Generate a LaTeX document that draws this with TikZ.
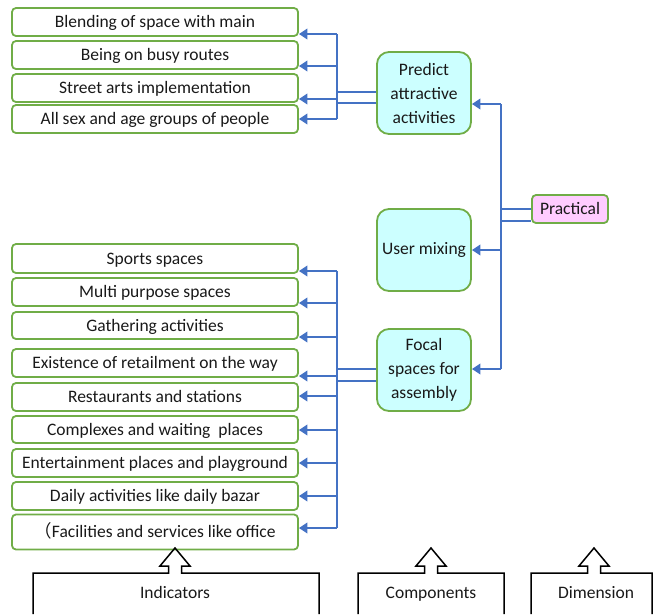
\documentclass[tikz,border=0pt]{standalone}
\usepackage{fontspec}
\setmainfont{Carlito}
\newfontfamily\cjk{Noto Sans CJK SC}
\usetikzlibrary{arrows.meta}
\definecolor{boxgreen}{HTML}{70AD47}
\definecolor{linkblue}{HTML}{4472C4}
\definecolor{paleCyan}{HTML}{CCFFFF}
\definecolor{palePink}{HTML}{FFCCFF}
% open-bottomed frame whose top edge rises into a hollow up-arrow
\newcommand\frameup[3]{%
  \draw[base] (#1,614) -- (#1,573) -- ({#3-6.5},573) -- ++(0,-7) -- ++(-8.5,0)
    -- ++(15,-18) -- ++(15,18) -- ++(-8.5,0) -- ++(0,7) -- (#2,573) -- (#2,614);}
\begin{document}
\begin{tikzpicture}[x=1pt,y=-1pt,
  item/.style={draw=boxgreen,line width=1.8pt,rounded corners=4pt,minimum width=286pt,
    inner sep=0pt,text height=12.5pt,text depth=1pt,
    font=\fontsize{17.5}{20}\selectfont,text=black!90},
  comp/.style={draw=boxgreen,fill=paleCyan,line width=1.8pt,rounded corners=12pt,
    minimum width=94pt,minimum height=82pt,align=center,inner sep=0pt,
    font=\fontsize{17.5}{24}\selectfont,text=black!90},
  link/.style={draw=linkblue,line width=2pt},
  arr/.style={link,-{Triangle[length=8.5pt,width=10.5pt]}},
  base/.style={draw=black,line width=1.5pt},
  caption/.style={font=\fontsize{17.5}{20}\selectfont,text=black!90,
    text height=12.5pt,text depth=1pt}]
\useasboundingbox (0,0) rectangle (653,614);

% indicators: upper group
\node[item,minimum height=28pt] (b1) at (155,22)  {Blending of space with main};
\node[item,minimum height=28pt] (b2) at (155,55)  {Being on busy routes};
\node[item,minimum height=28pt] (b3) at (155,88)  {Street arts implementation};
\node[item,minimum height=28pt] (b4) at (155,119) {All sex and age groups of people};

% indicators: lower group
\node[item,minimum height=29pt] (c1) at (155,258.5) {Sports spaces};
\node[item,minimum height=28pt] (c2) at (155,292)   {Multi purpose spaces};
\node[item,minimum height=27pt] (c3) at (155,325.5) {Gathering activities};
\node[item,minimum height=28pt] (c4) at (155,363)   {Existence of retailment on the way};
\node[item,minimum height=28pt] (c5) at (155,397)   {Restaurants and stations};
\node[item,minimum height=27pt] (c6) at (155,429.5) {Complexes and waiting\ \ places};
\node[item,minimum height=28pt] (c7) at (155,463)   {Entertainment places and playground};
\node[item,minimum height=28pt] (c8) at (155,496)   {Daily activities like daily bazar};
\node[item,minimum height=35pt] (c9) at (155,532)   {{\cjk （}Facilities and services like office};

% components
\node[comp] (pa) at (424,93)  {Predict\\attractive\\activities};
\node[comp] (um) at (424,250) {User mixing};
\node[comp] (fs) at (424,370) {Focal\\spaces for\\assembly};

% dimension
\node[draw=boxgreen,fill=palePink,line width=1.8pt,rounded corners=4pt,
  minimum width=76pt,minimum height=28pt,inner sep=0pt,text=black!90,
  text height=12.5pt,text depth=1pt,
  font=\fontsize{17.5}{20}\selectfont] (pr) at (570,209) {Practical};

% dimension to components
\coordinate (r0) at (501,104);
\coordinate (r1) at (501,209);
\coordinate (r2) at (501,221);
\coordinate (r3) at (501,250);
\coordinate (r4) at (501,369);
\draw[link] (r0) -- (r4);
\draw[link] (pr.west |- r1) -- (r1);
\draw[link] (pr.west |- r2) -- (r2);
\draw[arr] (r0) -- (r0 -| pa.east);
\draw[arr] (r3) -- (r3 -| um.east);
\draw[arr] (r4) -- (r4 -| fs.east);

% upper component to its indicators
\coordinate (u1) at (337,34);
\coordinate (u2) at (337,66);
\coordinate (u3) at (337,99);
\coordinate (u4) at (337,119);
\draw[link] (u1) -- (u4);
\draw[link] (pa.west |- 0,92) -- (337,92);
\draw[link] (pa.west |- 0,103) -- (337,103);
\draw[arr] (u1) -- (u1 -| b1.east);
\draw[arr] (u2) -- (u2 -| b2.east);
\draw[arr] (u3) -- (u3 -| b3.east);
\draw[arr] (u4) -- (u4 -| b4.east);

% lower component to its indicators
\coordinate (l1) at (337,271);
\coordinate (l2) at (337,303);
\coordinate (l3) at (337,337);
\coordinate (l4) at (337,376);
\coordinate (l5) at (337,396);
\coordinate (l6) at (337,430);
\coordinate (l7) at (337,463);
\coordinate (l8) at (337,496);
\coordinate (l9) at (337,528);
\draw[link] (l1) -- (l9);
\draw[link] (fs.west |- 0,369) -- (337,369);
\draw[link] (fs.west |- 0,381) -- (337,381);
\draw[arr] (l1) -- (l1 -| c1.east);
\draw[arr] (l2) -- (l2 -| c2.east);
\draw[arr] (l3) -- (l3 -| c3.east);
\draw[arr] (l4) -- (l4 -| c4.east);
\draw[arr] (l5) -- (l5 -| c5.east);
\draw[arr] (l6) -- (l6 -| c6.east);
\draw[arr] (l7) -- (l7 -| c7.east);
\draw[arr] (l8) -- (l8 -| c8.east);
\draw[arr] (l9) -- (l9 -| c9.east);

% level captions
\frameup{33}{319}{175}
\frameup{358}{504}{431}
\frameup{531}{652}{594}
\node[caption] (ind) at (175,593) {Indicators};
\node[caption] (cmp) at (431,593) {Components};
\node[caption] (dim) at (596,593) {Dimension};
\end{tikzpicture}
\end{document}
